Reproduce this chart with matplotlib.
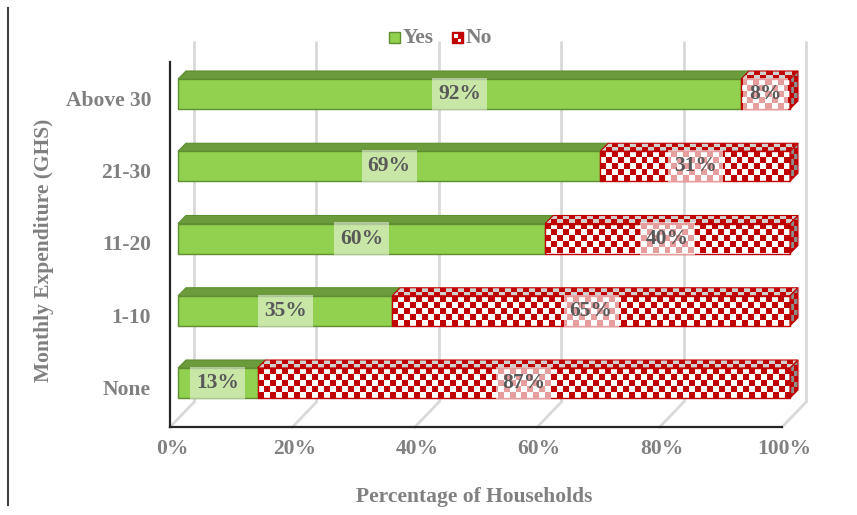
import numpy as np
import matplotlib
matplotlib.use("Agg")
import matplotlib.pyplot as plt
from matplotlib.patches import Polygon, Rectangle
from matplotlib.colors import ListedColormap
from matplotlib.lines import Line2D
import matplotlib.transforms as mtransforms

# ---------------- data ----------------
categories = ["None", "1-10", "11-20", "21-30", "Above 30"]
yes_vals = [13, 35, 60, 69, 92]
no_vals = [87, 65, 40, 31, 8]
x_ticks = [0, 20, 40, 60, 80, 100]
x_tick_labels = ["0%", "20%", "40%", "60%", "80%", "100%"]
series_names = ["Yes", "No"]
x_title = "Percentage of Households"
y_title = "Monthly Expenditure (GHS)"

# ---------------- style ----------------
FONT = "Liberation Serif"
GRAY = "#808080"
LABEL_GRAY = "#595959"
GREEN = "#92D050"
GREEN_TOP = "#6B9B3A"
GREEN_EDGE = "#5E8E30"
RED = "#C00000"
FS = 15.5

W, H, DPI = 857, 515, 100
fig = plt.figure(figsize=(W / DPI, H / DPI), dpi=DPI)

# axes geometry in pixels (top-origin)
ax_l, ax_r, ax_t, ax_b = 160, 815, 35, 440
ax = fig.add_axes([ax_l / W, (H - ax_b) / H, (ax_r - ax_l) / W, (ax_b - ax_t) / H])
# data coords = front face plane of the bars (percent units)
px_per_pct = 6.12
px_per_cat = 72.25
x0_px, y0_px = 178, 383
ax.set_xlim((ax_l - x0_px) / px_per_pct, (ax_r - x0_px) / px_per_pct)
ax.set_ylim((y0_px - ax_b) / px_per_cat, (y0_px - ax_t) / px_per_cat)
ax.set_autoscale_on(False)
ax.axis("off")

p0 = ax.transData.transform((0, 0))
p1 = ax.transData.transform((1, 1))
ppx, ppy = p1[0] - p0[0], p1[1] - p0[1]


def ux(px):
    return px / ppx


def uy(px):
    return px / ppy


D = 8  # bar depth in px
bar_h = 30 / px_per_cat
y_lo, y_hi = -0.5, 4.55

# ---------------- walls / floor ----------------
grid_c = "#D9D9D9"
front_dx, front_dy = -8, -8
back_dx, back_dy = 16, 17
for v in x_ticks:
    # back wall gridline
    ax.plot([v + ux(back_dx)] * 2, [y_lo + uy(back_dy), y_hi - 0.05 + uy(back_dy)],
            color=grid_c, lw=2, zorder=0.5, solid_capstyle="butt")
    # floor diagonal
    ax.plot([v + ux(front_dx), v + ux(back_dx)], [y_lo + uy(front_dy), y_lo + uy(back_dy)],
            color=grid_c, lw=2, zorder=0.5)

# front axis lines
ax.plot([ux(front_dx)] * 2, [y_lo + uy(front_dy), y_hi + uy(front_dy)], color="#262626", lw=1.6, zorder=1)
ax.plot([ux(front_dx), 100 + ux(front_dx)], [y_lo + uy(front_dy)] * 2, color="#262626", lw=1.6, zorder=1)

# ---------------- bars ----------------
cell = 6.0


def checker(nr, nc):
    return np.indices((nr, nc)).sum(axis=0) % 2


for i, (cat, yv, nv) in enumerate(zip(categories, yes_vals, no_vals)):
    b, t = i - bar_h / 2, i + bar_h / 2
    z = 2 + i * 0.01
    # Yes front
    ax.barh(i, yv, left=0, height=bar_h, color=GREEN, edgecolor=GREEN_EDGE, lw=1, zorder=z)
    # Yes top face
    ax.add_patch(Polygon([(0, t), (yv, t), (yv + ux(D), t + uy(D)), (ux(D), t + uy(D))],
                         closed=True, facecolor=GREEN_TOP, edgecolor=GREEN_EDGE, lw=0.8, zorder=z))
    # No front
    l, r = yv, yv + nv
    front = Rectangle((l, b), nv, bar_h, facecolor="none", edgecolor=RED, lw=1, zorder=z + 0.003)
    ax.add_patch(front)
    nc = max(1, int(round(nv * ppx / cell)))
    im = ax.imshow(checker(5, nc), extent=[l, r, b, t], cmap=ListedColormap([RED, "white"]),
                   aspect="auto", interpolation="nearest", zorder=z + 0.001)
    im.set_clip_path(front)
    # No top face
    top = Polygon([(l, t), (r, t), (r + ux(D), t + uy(D)), (l + ux(D), t + uy(D))], closed=True,
                  facecolor="none", edgecolor=RED, lw=0.8, zorder=z + 0.003)
    ax.add_patch(top)
    nc2 = max(1, int(round((nv * ppx + D) / cell)))
    im2 = ax.imshow(checker(2, nc2), extent=[l, r + ux(D), t, t + uy(D)],
                    cmap=ListedColormap([RED, "#D0D0D0"]), aspect="auto",
                    interpolation="nearest", zorder=z + 0.001)
    im2.set_clip_path(top)
    # No side face
    side = Polygon([(r, b), (r + ux(D), b + uy(D)), (r + ux(D), t + uy(D)), (r, t)], closed=True,
                   facecolor="none", edgecolor=RED, lw=0.8, zorder=z + 0.003)
    ax.add_patch(side)
    im3 = ax.imshow(checker(7, 2), extent=[r, r + ux(D), b, t + uy(D)],
                    cmap=ListedColormap([RED, "#8C8C8C"]), aspect="auto",
                    interpolation="nearest", zorder=z + 0.001)
    im3.set_clip_path(side)

    # data labels
    for (sl, sv, a) in [(0, yv, 0.5), (yv, nv, 0.62)]:
        ax.text(sl + sv / 2, i, f"{sv}%", ha="center", va="center", family=FONT,
                fontweight="bold", fontsize=FS, color=LABEL_GRAY, zorder=5,
                bbox=dict(boxstyle="square,pad=0.28", facecolor="white", alpha=a, edgecolor="none"))

# ---------------- tick labels ----------------
off_x = mtransforms.ScaledTranslation((front_dx + 2) / DPI, (front_dy - 22) / DPI, fig.dpi_scale_trans)
for v, lab in zip(x_ticks, x_tick_labels):
    ax.text(v, y_lo, lab, transform=ax.transData + off_x, ha="center", va="center",
            family=FONT, fontweight="bold", fontsize=FS, color=GRAY)

off_y = mtransforms.ScaledTranslation(0, -7 / DPI, fig.dpi_scale_trans)
cat_trans = mtransforms.blended_transform_factory(mtransforms.IdentityTransform(), ax.transData) + off_y
for i, cat in enumerate(categories):
    ax.text(151, i, cat, transform=cat_trans, ha="right", va="center",
            family=FONT, fontweight="bold", fontsize=FS, color=GRAY)

# ---------------- axis titles ----------------
fig.text(474 / W, 1 - 497 / H, x_title, ha="center", va="center", family=FONT,
         fontweight="bold", fontsize=FS, color=GRAY)
fig.text(44 / W, 1 - 250 / H, y_title, ha="center", va="center", rotation=90,
         family=FONT, fontweight="bold", fontsize=FS, color=GRAY)

# ---------------- legend ----------------
sq = 11
fig.patches.append(Rectangle((389 / W, 1 - 43 / H), sq / W, sq / H, transform=fig.transFigure,
                             facecolor=GREEN, edgecolor=GREEN_EDGE, lw=1))
fig.text(403 / W, 1 - 38 / H, series_names[0], ha="left", va="center", family=FONT,
         fontweight="bold", fontsize=FS, color=GRAY)
nx, ny = 452, 43
fig.patches.append(Rectangle((nx / W, 1 - ny / H), sq / W, sq / H, transform=fig.transFigure,
                             facecolor=RED, edgecolor=RED, lw=1))
fig.patches.append(Rectangle(((nx + 2) / W, 1 - (ny - 5) / H), 4 / W, 4 / H, transform=fig.transFigure,
                             facecolor="white", edgecolor="none"))
fig.patches.append(Rectangle(((nx + 6) / W, 1 - (ny - 1) / H), 3 / W, 3 / H, transform=fig.transFigure,
                             facecolor="white", edgecolor="none"))
fig.text(466 / W, 1 - 38 / H, series_names[1], ha="left", va="center", family=FONT,
         fontweight="bold", fontsize=FS, color=GRAY)

# left border line of the original image
fig.add_artist(Line2D([8 / W, 8 / W], [1 - 8 / H, 1 - 505 / H], transform=fig.transFigure,
                      color="#404040", lw=1.5))

fig.savefig("out.png", dpi=DPI)
